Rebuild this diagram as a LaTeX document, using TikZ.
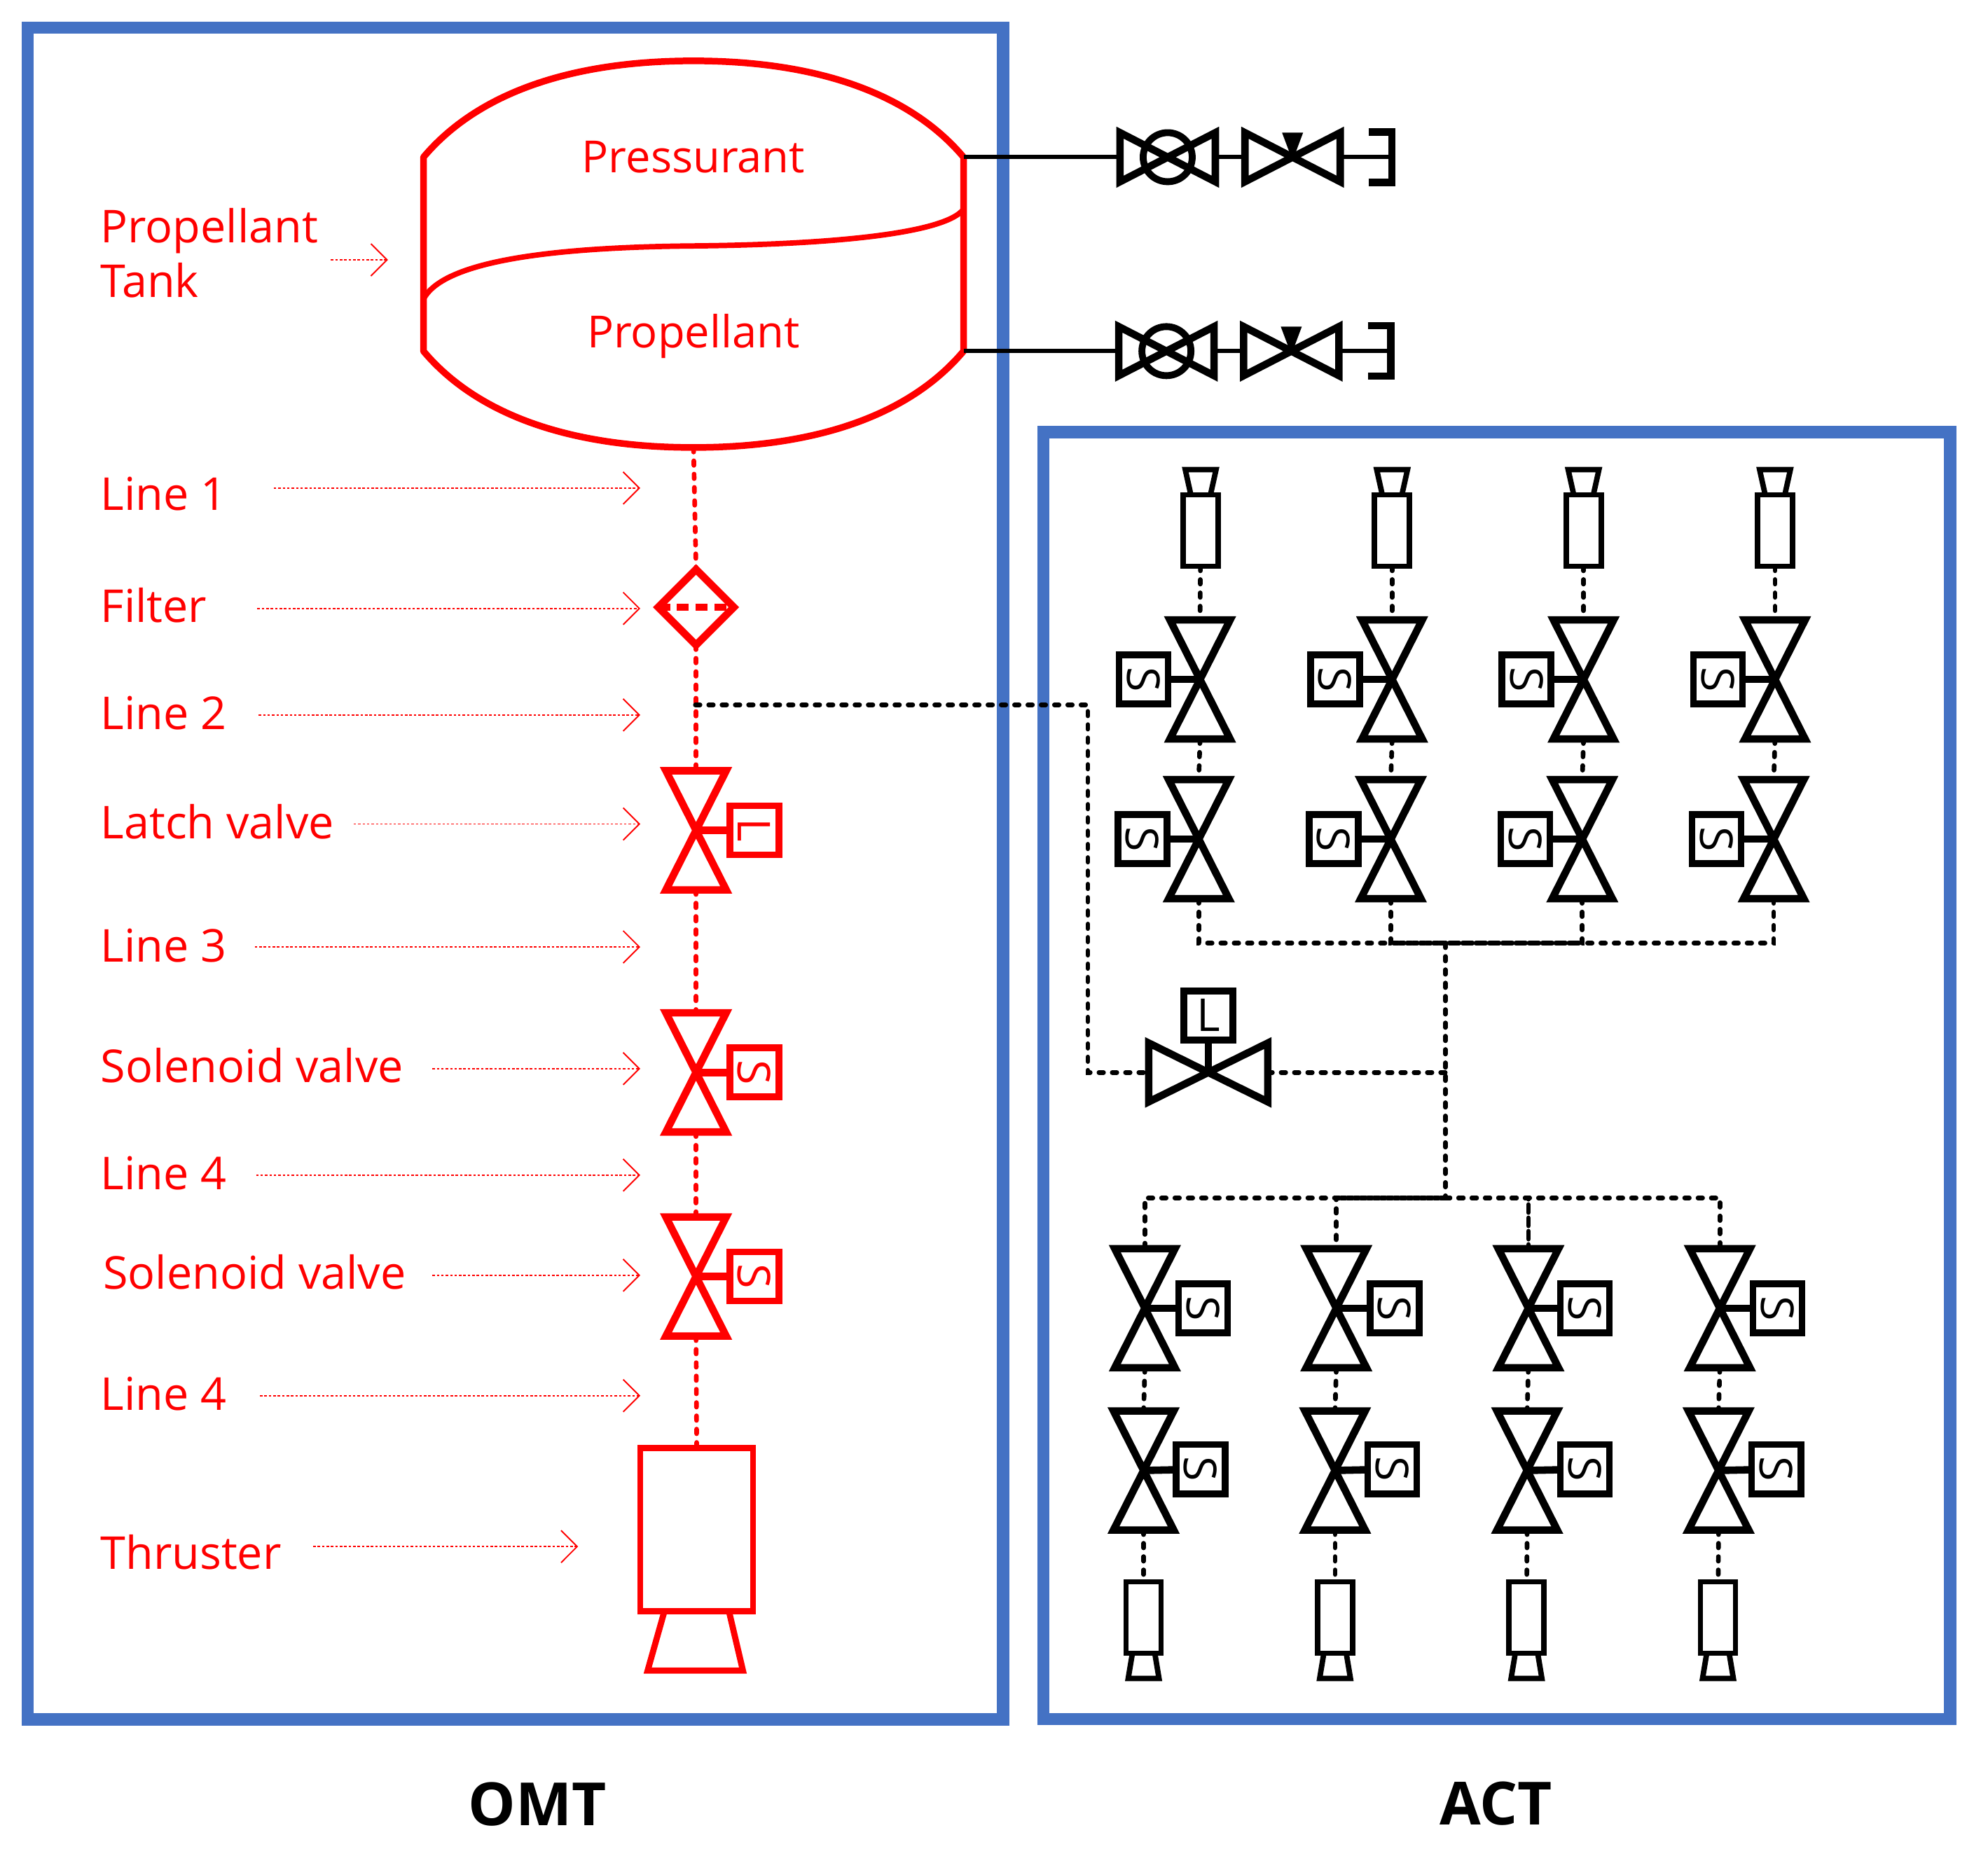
\documentclass[tikz,border=0pt]{standalone}
\usepackage{fontspec}
\usepackage{graphicx}
\usepackage{tikz}
\usetikzlibrary{shapes.geometric, arrows.meta}
\setmainfont{Open Sans}
\definecolor{framblue}{RGB}{68,114,196}
\tikzstyle{groupbox} = [draw=framblue, line width=5pt]
\tikzstyle{redname} = [inner sep=0pt, font=\fontsize{18.4}{22.2}\selectfont, text=red]
\tikzstyle{tankname} = [inner sep=0pt, font=\fontsize{18}{22}\selectfont, text=red]
\tikzstyle{rowname} = [redname, anchor=west, text height=13pt, text depth=0pt]
\tikzstyle{heading} = [inner sep=0pt, font=\fontsize{24.2}{30}\selectfont\bfseries]
\tikzstyle{pointer} = [red, line width=0.5pt, dash pattern=on 1pt off 0.8pt, -{Straight Barb[length=0.23cm,width=0.46cm,line width=0.55pt]}]
\tikzstyle{pipe} = [line width=1.9pt, line cap=round, dash pattern=on 1.85pt off 3.55pt]
\tikzstyle{solidpipe} = [line width=1.7pt]
\tikzstyle{valveline} = [line width=3pt]
\tikzstyle{uprightbody} = [rectangle, inner sep=0pt, outer sep=0pt, minimum width=0.86cm, minimum height=1.7cm]
\tikzstyle{sidebody} = [rectangle, inner sep=0pt, outer sep=0pt, minimum width=1.36cm, minimum height=0.7cm]
\tikzstyle{lyingbody} = [rectangle, inner sep=0pt, outer sep=0pt, minimum width=1.7cm, minimum height=0.84cm]
\tikzstyle{actuator} = [rectangle, draw, line width=2.7pt, inner sep=0pt, outer sep=0pt, minimum size=0.7cm, font=\fontsize{18.4}{22}\selectfont]
\tikzstyle{chamber} = [rectangle, draw, line width=2.2pt, inner sep=0pt, outer sep=0pt, minimum width=0.5cm, minimum height=1.02cm]
\newcommand{\turned}[1]{\rotatebox{-90}{#1}}
% name, valve position, actuator position, letter, colour
\newcommand{\stemvalve}[5]{
	\node (#1) [uprightbody] at (#2) {};
	\draw [valveline, #5] (#1.north west) -- (#1.north east) -- (#1.south west) -- (#1.south east) -- cycle;
	\node (#1act) [actuator, #5] at (#3) {\turned{#4}};
	\draw [valveline, #5] (#1act) -- (#1.center);
}
% name, position
\newcommand{\sidevalve}[2]{
	\node (#1) [sidebody] at (#2) {};
	\draw [valveline] (#1.north west) -- (#1.south east) -- (#1.north east) -- (#1.south west) -- cycle;
}
\newcommand{\nozzleup}[2]{
	\node (#1) [chamber] at (#2) {};
	\draw [line width=2.2pt] ([xshift=-0.14cm]#1.north) -- ([xshift=-0.22cm,yshift=0.36cm]#1.north) -- ([xshift=0.22cm,yshift=0.36cm]#1.north) -- ([xshift=0.14cm]#1.north);
}
\newcommand{\nozzledown}[2]{
	\node (#1) [chamber] at (#2) {};
	\draw [line width=2.2pt] ([xshift=-0.16cm]#1.south) -- ([xshift=-0.22cm,yshift=-0.36cm]#1.south) -- ([xshift=0.22cm,yshift=-0.36cm]#1.south) -- ([xshift=0.16cm]#1.south);
}
\begin{document}
\begin{tikzpicture}[x=0.0181cm, y=-0.0181cm]
	\useasboundingbox (0,0) rectangle (1568,1469.6);

	\node (omtframe) [groupbox, rectangle, inner sep=0pt, minimum width=13.92cm, minimum height=24.15cm] at (406.5,689) {};
	\node (actframe) [groupbox, rectangle, inner sep=0pt, minimum width=12.94cm, minimum height=18.37cm] at (1180.5,848.5) {};
	\node (omt) [heading] at (424,1423) {OMT};
	\node (act) [heading] at (1180,1423) {ACT};

	% tank
	\node (tank) [rectangle, inner sep=0pt, outer sep=0pt, minimum width=7.71cm, minimum height=5.52cm] at (547,200.5) {};
	\coordinate (tanktop) at (760,124);
	\coordinate (tankbot) at (760,277);
	\draw [red, line width=2.7pt, line join=bevel] (334,124) .. controls (377,73) and (451,48) .. (547,48) .. controls (643,48) and (717,73) .. (760,124) -- (760,277) .. controls (717,328) and (643,353) .. (547,353) .. controls (451,353) and (377,328) .. (334,277) -- cycle;
	\draw [red, line width=2.2pt] (334,236) .. controls (350,205) and (440,195) .. (547,194) .. controls (650,193) and (745,185) .. (760,165);
	\node (pressurant) [tankname] at (547,124) {Pressurant};
	\node (propellant) [tankname] at (547,265.5) {Propellant};

	% red feed line
	\node (filter) [diamond, draw=red, line width=3pt, inner sep=0pt, outer sep=0pt, minimum size=1.08cm] at (549,479) {};
	\draw [red, line width=2.8pt, dash pattern=on 4.8pt off 2.8pt] (filter.west) -- (filter.east);
	\stemvalve{latch}{549,655}{595,655}{L}{red}
	\stemvalve{solA}{549,846}{595,846}{S}{red}
	\stemvalve{solB}{549,1007}{595,1007}{S}{red}
	\node (engine) [rectangle, draw=red, line width=2.5pt, inner sep=0pt, outer sep=0pt, minimum width=1.61cm, minimum height=2.33cm] at (549.5,1206.5) {};
	\draw [red, line width=2.5pt] ([xshift=-0.46cm]engine.south) -- ([xshift=-0.7cm,yshift=-0.85cm]engine.south) -- ([xshift=0.66cm,yshift=-0.85cm]engine.south) -- ([xshift=0.46cm]engine.south);
	\coordinate (tee) at (548.5,556);

	\draw [pipe, red] (tank.south) -- (filter.north);
	\draw [pipe, red] (filter.south) -- (latch.north);
	\draw [pipe, red] (latch.south) -- (solA.north);
	\draw [pipe, red] (solA.south) -- (solB.north);
	\draw [pipe, red] (solB.south) -- (engine.north);

	% names with pointers
	\node (tankname) [redname, align=left, anchor=west] at (79,199.5) {Propellant\\Tank};
	\node (line1) [rowname] at (79,390) {Line 1};
	\node (filtername) [rowname] at (79,478) {Filter};
	\node (line2) [rowname] at (79,563) {Line 2};
	\node (latchname) [rowname] at (79,649) {Latch valve};
	\node (line3) [rowname] at (79,746) {Line 3};
	\node (solAname) [rowname] at (79,841) {Solenoid valve};
	\node (line4) [rowname] at (79,926) {Line 4};
	\node (solBname) [rowname] at (81,1004) {Solenoid valve};
	\node (line5) [rowname] at (79,1100) {Line 4};
	\node (enginename) [rowname] at (79,1225) {Thruster};
	\coordinate (tipA) at (306,205);
	\coordinate (tipB) at (505,385);
	\coordinate (tipC) at (505,480);
	\coordinate (tipD) at (505,564);
	\coordinate (tipE) at (505,650);
	\coordinate (tipF) at (505,747);
	\coordinate (tipG) at (505,843);
	\coordinate (tipH) at (505,927);
	\coordinate (tipI) at (505,1006);
	\coordinate (tipJ) at (505,1101);
	\coordinate (tipK) at (456,1220);
	\draw [pointer] (261,205) -- (tipA);
	\draw [pointer] (216,385) -- (tipB);
	\draw [pointer] (203,480) -- (tipC);
	\draw [pointer] (204,564) -- (tipD);
	\draw [pointer] (279,650) -- (tipE);
	\draw [pointer] (201,747) -- (tipF);
	\draw [pointer] (341,843) -- (tipG);
	\draw [pointer] (202,927) -- (tipH);
	\draw [pointer] (341,1006) -- (tipI);
	\draw [pointer] (205,1101) -- (tipJ);
	\draw [pointer] (247,1220) -- (tipK);

	% pressurisation branches
	\sidevalve{isoA}{921,124}
	\sidevalve{fillA}{1019.5,124}
	\sidevalve{isoB}{920,277}
	\sidevalve{fillB}{1018.5,277}
	\draw [line width=2.8pt] (isoA.center) circle (0.35cm);
	\draw [line width=2.8pt] (isoB.center) circle (0.35cm);
	\fill ([xshift=-0.15cm]fillA.north) -- ([xshift=0.15cm]fillA.north) -- ([yshift=-0.05cm]fillA.center) -- cycle;
	\fill ([xshift=-0.15cm]fillB.north) -- ([xshift=0.15cm]fillB.north) -- ([yshift=-0.05cm]fillB.center) -- cycle;
	\coordinate (capA) at (1098,124);
	\coordinate (capB) at (1097,277);
	\draw [line width=2.9pt] ([xshift=-0.33cm,yshift=0.36cm]capA) -- ([yshift=0.36cm]capA) -- ([yshift=-0.36cm]capA) -- ([xshift=-0.33cm,yshift=-0.36cm]capA);
	\draw [line width=2.9pt] ([xshift=-0.33cm,yshift=0.36cm]capB) -- ([yshift=0.36cm]capB) -- ([yshift=-0.36cm]capB) -- ([xshift=-0.33cm,yshift=-0.36cm]capB);
	\draw [solidpipe] (tanktop) -- (isoA.west);
	\draw [solidpipe] (isoA.east) -- (fillA.west);
	\draw [solidpipe] (fillA.east) -- (capA);
	\draw [solidpipe] (tankbot) -- (isoB.west);
	\draw [solidpipe] (isoB.east) -- (fillB.west);
	\draw [solidpipe] (fillB.east) -- (capB);

	% upper thruster groups
	\nozzleup{upA}{947,418.5}
	\nozzleup{upB}{1098,418.5}
	\nozzleup{upC}{1249,418.5}
	\nozzleup{upD}{1400,418.5}
	\stemvalve{upA1}{946.5,536}{902,536}{S}{black}
	\stemvalve{upB1}{1098,536}{1053,536}{S}{black}
	\stemvalve{upC1}{1249,536}{1204,536}{S}{black}
	\stemvalve{upD1}{1400,536}{1355,536}{S}{black}
	\stemvalve{upA2}{945.5,662}{901,662}{S}{black}
	\stemvalve{upB2}{1097,662}{1052,662}{S}{black}
	\stemvalve{upC2}{1248,662}{1203,662}{S}{black}
	\stemvalve{upD2}{1399,662}{1354,662}{S}{black}
	\draw [pipe] (upA) -- (upA1.north);
	\draw [pipe] (upB) -- (upB1.north);
	\draw [pipe] (upC) -- (upC1.north);
	\draw [pipe] (upD) -- (upD1.north);
	\draw [pipe] (upA1.south) -- (upA2.north);
	\draw [pipe] (upB1.south) -- (upB2.north);
	\draw [pipe] (upC1.south) -- (upC2.north);
	\draw [pipe] (upD1.south) -- (upD2.north);

	% latch valve and manifold
	\node (mainlatch) [lyingbody] at (953,846) {};
	\draw [valveline] (mainlatch.north west) -- (mainlatch.south east) -- (mainlatch.north east) -- (mainlatch.south west) -- cycle;
	\node (mainlatchact) [actuator] at (953,801) {L};
	\draw [valveline] (mainlatchact) -- (mainlatch.center);
	\coordinate (junctop) at (1140,744);
	\coordinate (juncmid) at (1140,846);
	\coordinate (juncbot) at (1140,945);
	\coordinate (feed) at (858,846);
	\draw [pipe] (tee) -| (feed) -- (mainlatch.west);
	\draw [pipe] (mainlatch.east) -- (juncmid);
	\draw [pipe] (junctop) -- (juncbot);
	\draw [pipe] (upA2.south) |- (junctop);
	\draw [pipe] (upB2.south) |- (junctop);
	\draw [pipe] (upC2.south) |- (junctop);
	\draw [pipe] (upD2.south) |- (junctop);

	% lower thruster groups
	\stemvalve{dnA1}{903,1032}{949,1032}{S}{black}
	\stemvalve{dnB1}{1054,1032}{1100,1032}{S}{black}
	\stemvalve{dnC1}{1205.5,1032}{1250,1032}{S}{black}
	\stemvalve{dnD1}{1356.5,1032}{1402,1032}{S}{black}
	\stemvalve{dnA2}{902,1160}{947,1159}{S}{black}
	\stemvalve{dnB2}{1053,1160}{1098,1159}{S}{black}
	\stemvalve{dnC2}{1204.5,1160}{1250,1159}{S}{black}
	\stemvalve{dnD2}{1355.5,1160}{1401,1159}{S}{black}
	\nozzledown{dnA}{902,1276}
	\nozzledown{dnB}{1053,1276}
	\nozzledown{dnC}{1204,1276}
	\nozzledown{dnD}{1355,1276}
	\draw [pipe] (juncbot) -| (dnA1.north);
	\draw [pipe] (juncbot) -| (dnB1.north);
	\draw [pipe] (juncbot) -| (dnC1.north);
	\draw [pipe] (juncbot) -| (dnD1.north);
	\draw [pipe, dash phase=2.7pt] (juncbot) -- (juncbot -| dnB1.north);
	\draw [pipe, dash phase=2.7pt] (juncbot -| dnC1.north) -- (dnC1.north);
	\draw [pipe] (dnA1.south) -- (dnA2.north);
	\draw [pipe] (dnB1.south) -- (dnB2.north);
	\draw [pipe] (dnC1.south) -- (dnC2.north);
	\draw [pipe] (dnD1.south) -- (dnD2.north);
	\draw [pipe] (dnA2.south) -- (dnA);
	\draw [pipe] (dnB2.south) -- (dnB);
	\draw [pipe] (dnC2.south) -- (dnC);
	\draw [pipe] (dnD2.south) -- (dnD);
\end{tikzpicture}
\end{document}
